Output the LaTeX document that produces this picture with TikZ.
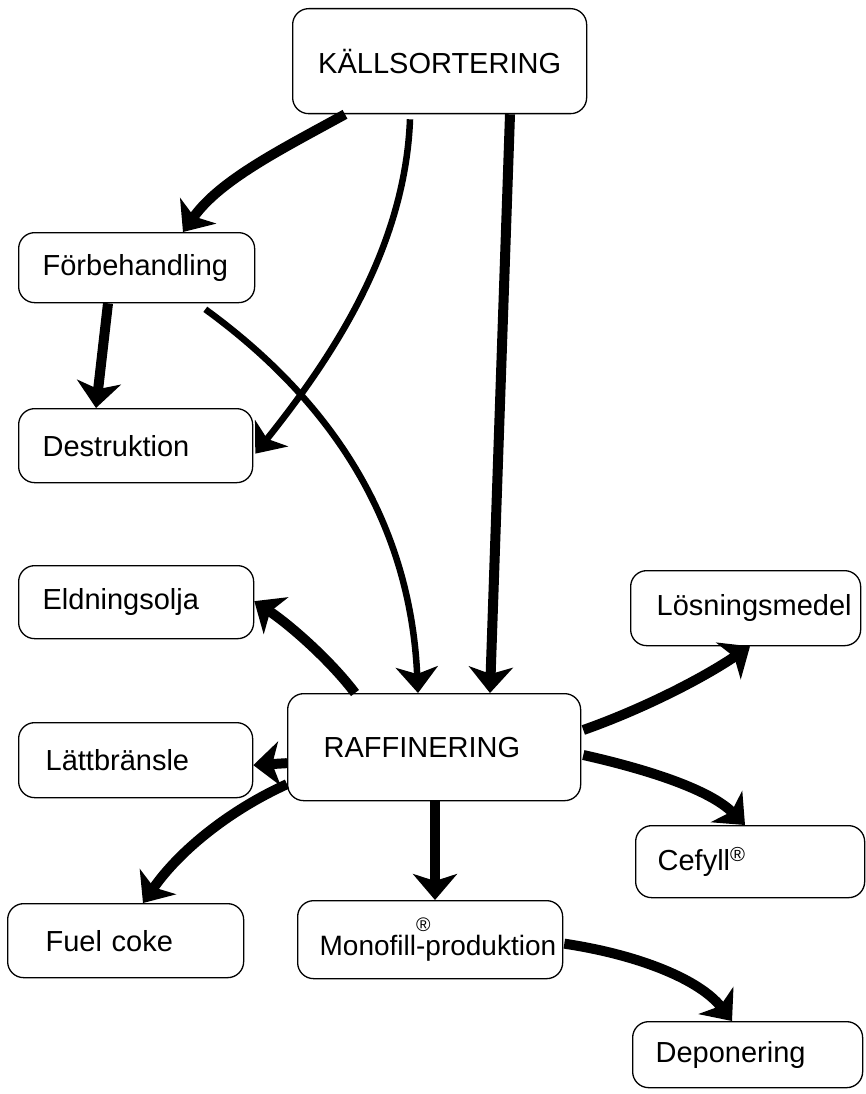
\documentclass[tikz,border=0pt]{standalone}
\usepackage{fontspec}
\setmainfont{Liberation Sans}
\usetikzlibrary{arrows.meta,calc}
\begin{document}
\begin{tikzpicture}[x=1pt,y=-1pt,
  box/.style={draw, line width=1.3pt, rounded corners=16pt, anchor=north west,
    inner ysep=0pt, align=left, font=\fontsize{29}{33}\selectfont},
  arr/.style={line width=10pt, -{Stealth[length=26pt,width=44pt,inset=7pt]}},
  thinarr/.style={line width=6.5pt, -{Stealth[length=26pt,width=42pt,inset=7pt]}}]
\useasboundingbox (0,0) rectangle (866,1094);
\node[box, align=center, inner xsep=0pt, text width=294pt, minimum height=105pt] (kall) at (292,8) {KÄLLSORTERING};
\node[box, inner xsep=24pt, text width=188pt, minimum height=70pt] (forb) at (18,232) {Förbehandling};
\node[box, inner xsep=24pt, text width=186pt, minimum height=74pt] (dest) at (18,408) {Destruktion};
\node[box, inner xsep=24pt, text width=187pt, minimum height=73pt] (eld) at (18,565) {Eldningsolja};
\node[box, inner xsep=26pt, text width=178pt, minimum height=75pt] (los) at (630,570) {Lösningsmedel};
\node[box, inner xsep=36pt, text width=221pt, minimum height=107pt] (raff) at (287,693) {RAFFINERING};
\node[box, inner xsep=27pt, text width=180pt, minimum height=75pt] (latt) at (18,722) {Lättbränsle};
\node[box, inner xsep=22pt, text width=185pt, minimum height=72pt] (cef) at (635,825) {Cefyll\textsuperscript{®}};
\node[box, inner xsep=38pt, text width=160pt, minimum height=74pt] (fuel) at (7,903) {Fuel coke};
\node[box, inner xsep=22pt, text width=221pt, minimum height=78pt, font=\fontsize{28}{32}\selectfont] (mono) at (297,900) {\mbox{Monofill\rlap{\raisebox{1.0ex}{\textsuperscript{®}}}-produktion}};
\node[box, inner xsep=23pt, text width=184pt, minimum height=66pt] (dep) at (632,1021) {Deponering};

\draw[arr] ($(kall.south west)+(53,0)$) .. controls (280,150) and (220,180) .. ($(forb.north west)+(165,0)$);
\draw[thinarr] ($(kall.south west)+(118,5)$) .. controls (405,250) and (330,360) .. ($(dest.east)+(2,8)$);
\draw[arr] ($(kall.south west)+(218,0)$) -- ($(raff.north west)+(203,0)$);
\draw[arr] ($(forb.south west)+(90,0)$) -- ($(dest.north west)+(78,0)$);
\draw[thinarr] ($(forb.south east)+(-50,6)$) .. controls (330,400) and (410,520) .. ($(raff.north west)+(131,0)$);
\draw[arr] ($(raff.north west)+(68,0)$) .. controls (330,660) and (290,625) .. ($(eld.east)+(0,-1)$);
\draw[arr] ($(raff.west)+(0,16)$) -- ($(latt.east)+(0,5)$);
\draw[arr] ($(raff.west)+(0,37)$) .. controls (230,810) and (180,850) .. ($(fuel.north west)+(136,0)$);
\draw[arr] ($(raff.south west)+(148,0)$) -- ($(mono.north west)+(138,0)$);
\draw[arr] ($(raff.north east)+(2,37)$) .. controls (640,710) and (700,680) .. ($(los.south west)+(120,0)$);
\draw[arr] ($(raff.north east)+(2,62)$) .. controls (650,770) and (710,790) .. ($(cef.north west)+(110,0)$);
\draw[arr] ($(mono.east)+(1,4)$) .. controls (640,955) and (700,980) .. ($(dep.north west)+(100,0)$);
\end{tikzpicture}
\end{document}
